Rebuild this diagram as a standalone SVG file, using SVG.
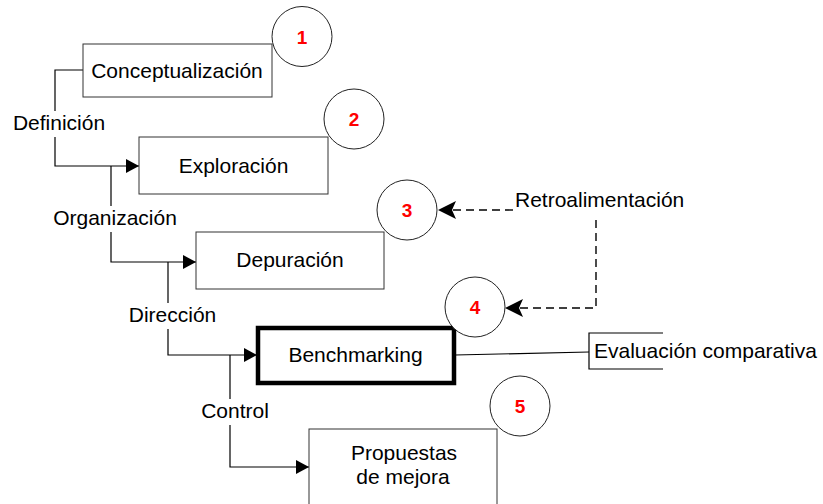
<svg xmlns="http://www.w3.org/2000/svg" width="823" height="504" viewBox="0 0 823 504">
  <defs>
    <marker id="arrow" viewBox="0 0 13 14" refX="13" refY="7" markerWidth="13" markerHeight="14" markerUnits="userSpaceOnUse" orient="auto">
      <path d="M0,0 L13,7 L0,14 Z" fill="#000"/>
    </marker>
    <marker id="arrowBig" viewBox="0 0 18 18" refX="18" refY="9" markerWidth="18" markerHeight="18" markerUnits="userSpaceOnUse" orient="auto">
      <path d="M0,0 L18,9 L0,18 L4,9 Z" fill="#000"/>
    </marker>
  </defs>
  <style>
    text { font-family: "Liberation Sans", Arial, sans-serif; fill: #000; }
    .lbl { font-size: 21px; text-anchor: middle; }
    .num { font-size: 19px; font-weight: bold; fill: #ff0000; text-anchor: middle; }
    .box { fill: #fff; stroke: #333; stroke-width: 1; }
    .bold { fill: #fff; stroke: #000; stroke-width: 4.5; }
    .circ { fill: #fff; stroke: #222; stroke-width: 1; }
    .wire { fill: none; stroke: #000; stroke-width: 1.2; }
    .dash { fill: none; stroke: #000; stroke-width: 1.4; stroke-dasharray: 8 5; }
    .mask { fill: #fff; stroke: none; }
  </style>
  <rect width="823" height="504" fill="#fff"/>

  <g id="connectors">
    <path class="wire" d="M83,70 H55 V166 H139" marker-end="url(#arrow)"/>
    <path class="wire" d="M111,166 V262 H196" marker-end="url(#arrow)"/>
    <path class="wire" d="M168,262 V355 H257" marker-end="url(#arrow)"/>
    <path class="wire" d="M230,355 V467 H309" marker-end="url(#arrow)"/>
    <path class="wire" d="M455,355 L589,352"/>
    <path class="dash" d="M513,210 H438" marker-end="url(#arrowBig)"/>
    <path class="dash" d="M596,220 V308 H505" marker-end="url(#arrowBig)"/>
    <path class="wire" d="M663,333 H589 V369 H663"/>
    <rect class="mask" x="11" y="111" width="96" height="26"/>
    <text class="lbl" x="59" y="130">Definición</text>
    <rect class="mask" x="51" y="206" width="128" height="26"/>
    <text class="lbl" x="115" y="225">Organización</text>
    <rect class="mask" x="127" y="303" width="91" height="26"/>
    <text class="lbl" x="172.5" y="322">Dirección</text>
    <rect class="mask" x="200" y="399" width="70" height="26"/>
    <text class="lbl" x="235" y="418">Control</text>
    <text x="515" y="207" style="font-size:21px">Retroalimentación</text>
    <text x="594" y="358" style="font-size:21px">Evaluación comparativa</text>
  </g>

  <g id="conceptualizacion">
    <rect class="box" x="83" y="44" width="189" height="53"/>
    <text class="lbl" x="177" y="78">Conceptualización</text>
  </g>
  <g id="exploracion">
    <rect class="box" x="139" y="137" width="189" height="57"/>
    <text class="lbl" x="233.5" y="173">Exploración</text>
  </g>
  <g id="depuracion">
    <rect class="box" x="196" y="232" width="188" height="57"/>
    <text class="lbl" x="290" y="267">Depuración</text>
  </g>
  <g id="benchmarking">
    <rect class="bold" x="258" y="328" width="196" height="55"/>
    <text class="lbl" x="355.5" y="362">Benchmarking</text>
  </g>
  <g id="propuestas">
    <rect class="box" x="309" y="429" width="188" height="80"/>
    <text class="lbl" x="404" y="460">Propuestas</text>
    <text class="lbl" x="403" y="484">de mejora</text>
  </g>

  <g id="step1">
    <circle class="circ" cx="302" cy="36.5" r="30"/>
    <text class="num" x="302" y="43.5">1</text>
  </g>
  <g id="step2">
    <circle class="circ" cx="354" cy="119" r="30"/>
    <text class="num" x="354" y="125.5">2</text>
  </g>
  <g id="step3">
    <circle class="circ" cx="407" cy="210" r="30"/>
    <text class="num" x="407" y="216.5">3</text>
  </g>
  <g id="step4">
    <circle class="circ" cx="475" cy="307" r="30"/>
    <text class="num" x="475" y="313.5">4</text>
  </g>
  <g id="step5">
    <circle class="circ" cx="520" cy="406" r="30"/>
    <text class="num" x="520" y="412.5">5</text>
  </g>
</svg>
